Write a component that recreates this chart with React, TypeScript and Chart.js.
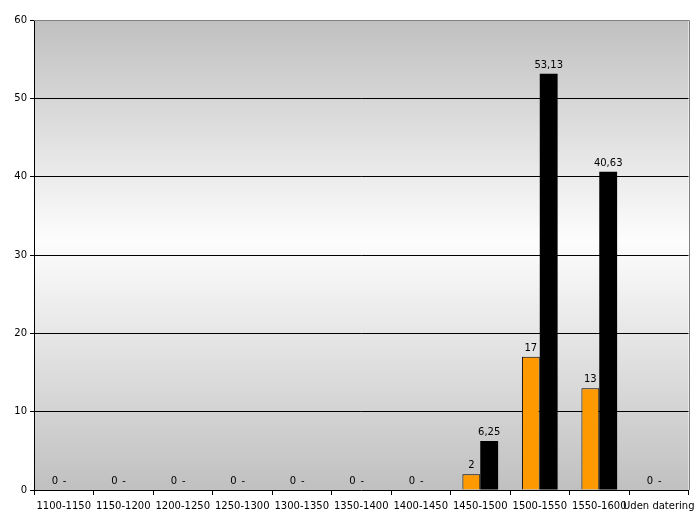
import React, { useEffect, useRef } from "react";
import { Chart, registerables } from "chart.js";

Chart.register(...registerables);

const categories = [
  "1100-1150", "1150-1200", "1200-1250", "1250-1300", "1300-1350", "1350-1400",
  "1400-1450", "1450-1500", "1500-1550", "1550-1600", "Uden datering",
];
const countValues = [0, 0, 0, 0, 0, 0, 0, 2, 17, 13, 0];
const percentValues = [0, 0, 0, 0, 0, 0, 0, 6.25, 53.13, 40.63, 0];
const yTicks = [0, 10, 20, 30, 40, 50, 60];

const FONT = "DejaVu Sans";

const bgPlugin = {
  id: "bgGradient",
  beforeDraw(chart: any) {
    const { ctx, chartArea } = chart;
    const { left, top, right, bottom } = chartArea;
    const g = ctx.createLinearGradient(0, top, 0, bottom);
    g.addColorStop(0, "#c0c0c0");
    g.addColorStop(0.47, "#fdfdfd");
    g.addColorStop(1, "#c0c0c0");
    ctx.save();
    ctx.fillStyle = g;
    ctx.fillRect(left, top, right - left, bottom - top);
    ctx.restore();
  },
  afterDatasetsDraw(chart: any) {
    const { ctx, chartArea } = chart;
    const { left, top, right, bottom } = chartArea;
    ctx.save();
    ctx.strokeStyle = "#808080";
    ctx.lineWidth = 1;
    ctx.beginPath();
    ctx.moveTo(left, Math.round(top) + 0.5);
    ctx.lineTo(Math.round(right) + 0.5, Math.round(top) + 0.5);
    ctx.lineTo(Math.round(right) + 0.5, bottom);
    ctx.stroke();
    ctx.restore();
  },
};

const labelPlugin = {
  id: "barLabels",
  afterDatasetsDraw(chart: any) {
    const { ctx } = chart;
    ctx.save();
    ctx.font = `10px "${FONT}"`;
    ctx.fillStyle = "#000";
    ctx.textAlign = "center";
    ctx.textBaseline = "alphabetic";
    chart.data.datasets.forEach((ds: any, di: number) => {
      const meta = chart.getDatasetMeta(di);
      meta.data.forEach((bar: any, i: number) => {
        const v = ds.data[i];
        let text: string;
        let dx = 0;
        if (di === 0) {
          text = String(v);
        } else {
          if (v === 0) {
            text = "-";
            dx = -8;
          } else {
            text = v.toFixed(2).replace(".", ",");
          }
        }
        ctx.fillText(text, bar.x + dx, bar.y - 6);
      });
    });
    ctx.restore();
  },
};

export default function App() {
  const ref = useRef<HTMLCanvasElement>(null);
  useEffect(() => {
    if (!ref.current) return;
    const chart = new Chart(ref.current, {
      type: "bar",
      data: {
        labels: categories,
        datasets: [
          {
            label: "Antal",
            data: countValues,
            backgroundColor: "#ff9900",
            borderColor: "#000000",
            borderWidth: (c: any) => (c.raw === 0 ? 0 : 1),
            borderSkipped: "bottom",
            categoryPercentage: 0.6,
            barPercentage: 1,
          },
          {
            label: "Procent",
            data: percentValues,
            backgroundColor: "#000000",
            borderColor: "#000000",
            borderWidth: 0,
            categoryPercentage: 0.6,
            barPercentage: 1,
          },
        ],
      },
      plugins: [bgPlugin, labelPlugin],
      options: {
        animation: false,
        responsive: false,
        maintainAspectRatio: false,
        layout: { padding: { top: 20, right: 11, left: 0, bottom: 0 } },
        plugins: {
          legend: { display: false },
          tooltip: { enabled: false },
        },
        scales: {
          x: {
            offset: true,
            grid: {
              offset: true,
              drawOnChartArea: false,
              drawTicks: true,
              tickLength: 5,
              color: "#000",
            },
            border: { color: "#000", width: 1 },
            ticks: {
              color: "#000",
              font: { family: FONT, size: 10 },
              maxRotation: 0,
              autoSkip: false,
              padding: 5,
            },
            afterFit(scale: any) {
              scale.height = 35;
            },
          },
          y: {
            min: 0,
            max: 60,
            afterBuildTicks(scale: any) {
              scale.ticks = yTicks.map((v) => ({ value: v }));
            },
            grid: {
              color: (c: any) => (c.tick && (c.tick.value === 0 || c.tick.value === 60) ? "rgba(0,0,0,0)" : "#000"),
              drawTicks: true,
              tickLength: 4,
              tickColor: "#000",
            },
            border: { color: "#000", width: 1 },
            ticks: {
              color: "#000",
              font: { family: FONT, size: 10 },
              padding: 3,
            },
            afterFit(scale: any) {
              scale.width = 34;
            },
          },
        },
      } as any,
    });
    return () => chart.destroy();
  }, []);
  return (
    <div style={{ position: "fixed", left: 0, top: 0, width: 700, height: 525, background: "#fff" }}>
      <canvas ref={ref} width={700} height={525} style={{ width: 700, height: 525, display: "block" }} />
    </div>
  );
}
